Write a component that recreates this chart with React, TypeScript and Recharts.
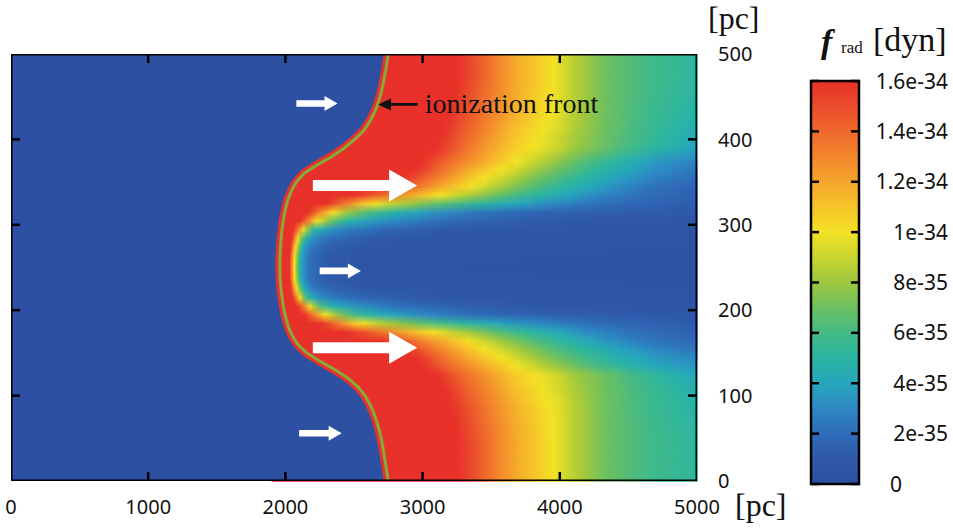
import React from 'react';
import { ScatterChart, Scatter, XAxis, YAxis, ReferenceArea, ReferenceLine } from 'recharts';

// all f_rad levels below are in units of 1e-35 dyn
const xTicks = [0, 1000, 2000, 3000, 4000, 5000];
const yTicks = [0, 100, 200, 300, 400, 500];
const colorbarTicks = [0, 2, 4, 6, 8, 10, 12, 14, 16];
const colorbarLabels = ['0', '2e-35', '4e-35', '6e-35', '8e-35', '1e-34', '1.2e-34', '1.4e-34', '1.6e-34'];

// jet-like map, colour for level 0..16
const levelColors = [
  '#2d50a2', '#2f58aa', '#2f6cb9', '#2d88c3', '#27a6bd', '#2ab5a3', '#44ba86', '#6bc062',
  '#9dc83e', '#c9d52f', '#f3e224', '#f6c42a', '#f5a52c', '#f3862d', '#ef692d', '#eb4b2c', '#e8312a',
];

// ionization front (green line), x in pc for y = 500 ... 0
const frontY = [500, 490, 480, 470, 460, 450, 440, 430, 420, 410, 400, 390, 380, 370, 360, 350, 340, 330, 320, 310, 300,
  290, 280, 270, 260, 250, 240, 230, 220, 210, 200, 190, 180, 170, 160, 150, 140, 130, 120, 110, 100,
  90, 80, 70, 60, 50, 40, 30, 20, 10, 0];
const frontX = [2750, 2740, 2730, 2718, 2705, 2690, 2670, 2645, 2612, 2570, 2505, 2430, 2340, 2230, 2135, 2080, 2045, 2020, 2003, 1990, 1980,
  1972, 1967, 1963, 1960, 1960, 1961, 1965, 1971, 1980, 1990, 2005, 2023, 2050, 2090, 2155, 2255, 2365, 2460, 2530, 2580,
  2615, 2643, 2665, 2683, 2698, 2710, 2720, 2730, 2740, 2750];

// horizontal f_rad profiles: row y (pc) and [x pc, level] points from the front to the right edge
const rowY = [490, 470, 450, 430, 410, 390, 375, 365, 355, 345, 335, 325, 315, 305, 295, 285, 275, 265, 255,
  245, 235, 225, 215, 205, 195, 185, 175, 165, 155, 145, 135, 125, 110, 90, 70, 50, 30, 10];
const rowProfiles: number[][][] = [
  [[2740, 16], [3250, 16], [3400, 14.6], [3550, 13], [3700, 11.7], [3850, 10.7], [3950, 10], [4080, 8.8], [4300, 7.2], [4500, 6.4], [4700, 5.8], [5000, 5.1]],
  [[2718, 16], [3250, 16], [3400, 14.6], [3550, 13], [3700, 11.7], [3850, 10.7], [3950, 10], [4080, 8.8], [4300, 7.2], [4500, 6.4], [4700, 5.8], [5000, 5.1]],
  [[2690, 16], [3230, 16], [3380, 14.5], [3540, 12.9], [3700, 11.6], [3860, 10.5], [3960, 9.9], [4090, 8.7], [4300, 7.2], [4500, 6.4], [4700, 5.7], [5000, 5]],
  [[2645, 16], [3200, 16], [3360, 14.4], [3530, 12.8], [3700, 11.4], [3870, 10.3], [3980, 9.7], [4100, 8.6], [4300, 7.2], [4500, 6.3], [4700, 5.6], [5000, 4.8]],
  [[2570, 16], [3150, 16], [3320, 14.2], [3500, 12.6], [3680, 11], [3850, 10.1], [3980, 9.3], [4120, 8.2], [4320, 7.1], [4520, 6.2], [4720, 5.4], [5000, 4.4]],
  [[2430, 16], [3100, 16], [3280, 14], [3480, 12.2], [3650, 10.8], [3800, 10], [3950, 9.2], [4100, 8], [4300, 7], [4500, 6], [4700, 5], [5000, 3.8]],
  [[2285, 16], [3000, 16], [3180, 14], [3380, 12.4], [3550, 11], [3680, 10], [3850, 8.7], [4050, 7.3], [4250, 6], [4450, 4.8], [4700, 3.6], [5000, 2.8]],
  [[2180, 16], [2950, 16], [3120, 14], [3320, 12], [3500, 10.5], [3630, 9.6], [3800, 8.2], [4000, 6.9], [4200, 5.7], [4420, 4.4], [4700, 3.2], [5000, 2.4]],
  [[2105, 16], [2850, 16], [3030, 14], [3230, 12], [3420, 10.2], [3560, 9.2], [3750, 7.7], [3950, 6.4], [4150, 5.2], [4400, 3.9], [4700, 2.7], [5000, 2]],
  [[2060, 16], [2720, 16], [2920, 14], [3120, 12], [3320, 10.3], [3500, 8.7], [3700, 7.2], [3880, 6], [4100, 4.7], [4350, 3.4], [4650, 2.3], [5000, 1.6]],
  [[2030, 16], [2500, 16], [2700, 14], [2900, 12], [3100, 10.2], [3300, 8.6], [3500, 7.2], [3700, 5.9], [3950, 4.5], [4200, 3.3], [4550, 2.2], [5000, 1.4]],
  [[2010, 16], [2300, 16], [2430, 13.5], [2560, 11], [2700, 9.5], [2900, 8], [3100, 6.8], [3350, 5.5], [3600, 4.3], [3900, 3.2], [4300, 2.1], [5000, 1.2]],
  [[1995, 16], [2170, 16], [2250, 13], [2330, 10.5], [2450, 8], [2600, 6.3], [2800, 4.8], [3050, 3.5], [3400, 2.4], [3900, 1.6], [4500, 1.2], [5000, 1]],
  [[1985, 16], [2110, 16], [2170, 13], [2230, 10], [2330, 7.2], [2450, 5], [2650, 3.6], [2900, 2.7], [3250, 1.8], [3800, 1.1], [5000, 0.8]],
  [[1975, 16], [2060, 16], [2110, 12], [2150, 8.5], [2200, 5.5], [2280, 3.8], [2420, 2.8], [2700, 1.8], [3200, 1], [5000, 0.6]],
  [[1969, 16], [2045, 16], [2085, 11], [2120, 7], [2160, 4.5], [2220, 3], [2350, 2], [2600, 1.2], [3000, 0.8], [5000, 0.5]],
  [[1965, 16], [2035, 16], [2070, 11], [2100, 7], [2130, 4], [2190, 2.4], [2300, 1.5], [2550, 0.9], [5000, 0.5]],
  [[1961, 16], [2030, 16], [2065, 10.5], [2095, 6.5], [2120, 4], [2175, 2.2], [2300, 1.2], [2550, 0.7], [5000, 0.4]],
  [[1960, 16], [2028, 16], [2062, 10.5], [2092, 6.5], [2115, 4], [2170, 2.2], [2300, 1.1], [2550, 0.6], [5000, 0.4]],
  [[1960, 16], [2028, 16], [2062, 10.5], [2092, 6.5], [2115, 4], [2170, 2.2], [2300, 1.1], [2550, 0.6], [5000, 0.4]],
  [[1963, 16], [2030, 16], [2065, 10.5], [2095, 6.5], [2120, 4], [2175, 2.2], [2300, 1.2], [2550, 0.7], [5000, 0.4]],
  [[1968, 16], [2038, 16], [2075, 11], [2108, 7], [2142, 4.2], [2200, 2.6], [2320, 1.7], [2570, 1], [5000, 0.5]],
  [[1975, 16], [2052, 16], [2095, 11.5], [2132, 7.5], [2175, 4.8], [2245, 3.3], [2380, 2.3], [2650, 1.5], [3100, 0.9], [5000, 0.55]],
  [[1985, 16], [2090, 16], [2145, 12.5], [2195, 9], [2265, 6], [2370, 4.3], [2550, 3.2], [2800, 2.2], [3250, 1.4], [3900, 0.9], [5000, 0.7]],
  [[1997, 16], [2140, 16], [2210, 13], [2280, 10.3], [2390, 7.6], [2530, 5.6], [2720, 4.2], [2980, 3.1], [3330, 2.1], [3850, 1.4], [4500, 1.1], [5000, 0.9]],
  [[2013, 16], [2260, 16], [2380, 13.3], [2500, 10.8], [2650, 9], [2850, 7.6], [3050, 6.4], [3300, 5.1], [3550, 4], [3850, 3], [4250, 2], [5000, 1.1]],
  [[2035, 16], [2450, 16], [2650, 14], [2850, 12], [3050, 10.2], [3250, 8.6], [3450, 7.2], [3650, 5.9], [3900, 4.5], [4150, 3.3], [4500, 2.2], [5000, 1.4]],
  [[2068, 16], [2700, 16], [2900, 14], [3100, 12], [3300, 10.3], [3480, 8.7], [3680, 7.2], [3860, 6], [4080, 4.7], [4330, 3.4], [4630, 2.4], [5000, 1.7]],
  [[2120, 16], [2850, 16], [3030, 14], [3230, 12], [3420, 10.2], [3560, 9.2], [3750, 7.7], [3950, 6.4], [4150, 5.2], [4400, 4], [4700, 2.9], [5000, 2.2]],
  [[2200, 16], [2950, 16], [3120, 14], [3320, 12], [3500, 10.5], [3630, 9.6], [3800, 8.2], [4000, 6.9], [4200, 5.8], [4420, 4.6], [4700, 3.6], [5000, 2.9]],
  [[2310, 16], [3000, 16], [3180, 14], [3380, 12.4], [3550, 11], [3680, 10], [3850, 8.7], [4050, 7.4], [4250, 6.2], [4450, 5.1], [4700, 4], [5000, 3.4]],
  [[2415, 16], [3100, 16], [3280, 14], [3480, 12.3], [3650, 10.9], [3800, 10.1], [3950, 9.3], [4100, 8.1], [4300, 7.1], [4500, 6.1], [4700, 5.2], [5000, 4]],
  [[2530, 16], [3150, 16], [3320, 14.2], [3500, 12.6], [3680, 11], [3850, 10.1], [3980, 9.3], [4120, 8.2], [4320, 7.1], [4520, 6.2], [4720, 5.4], [5000, 4.5]],
  [[2615, 16], [3200, 16], [3360, 14.4], [3530, 12.8], [3700, 11.4], [3870, 10.3], [3980, 9.7], [4100, 8.6], [4300, 7.2], [4500, 6.3], [4700, 5.6], [5000, 4.9]],
  [[2665, 16], [3230, 16], [3380, 14.5], [3540, 12.9], [3700, 11.6], [3860, 10.5], [3960, 9.9], [4090, 8.7], [4300, 7.2], [4500, 6.4], [4700, 5.7], [5000, 5]],
  [[2698, 16], [3250, 16], [3400, 14.6], [3550, 13], [3700, 11.7], [3850, 10.7], [3950, 10], [4080, 8.8], [4300, 7.2], [4500, 6.4], [4700, 5.8], [5000, 5.1]],
  [[2720, 16], [3250, 16], [3400, 14.6], [3550, 13], [3700, 11.7], [3850, 10.7], [3950, 10], [4080, 8.8], [4300, 7.2], [4500, 6.4], [4700, 5.8], [5000, 5.2]],
  [[2740, 16], [3250, 16], [3400, 14.6], [3550, 13], [3700, 11.7], [3850, 10.7], [3950, 10], [4080, 8.8], [4300, 7.2], [4500, 6.4], [4700, 5.8], [5000, 5.2]],
];
// the field is painted from here rightwards, the blue region left of the front goes on top
const FIELD_X0 = 1900;

// white flow arrows (pc)
const arrowTailX = [2080, 2200, 2250, 2200, 2100];
const arrowTipX = [2380, 2960, 2550, 2960, 2410];
const arrowY = [442, 346, 246, 156, 56];
const arrowBig = [false, true, false, true, false];

// "ionization front" pointer
const labelArrowX = [2965, 2675];
const labelArrowY = 441;

const hexToRgb = (h: string) => [1, 3, 5].map((i) => parseInt(h.slice(i, i + 2), 16));
const levelColor = (lev: number) => {
  const l = Math.max(0, Math.min(16, lev));
  const i = Math.min(15, Math.floor(l));
  const t = l - i;
  const a = hexToRgb(levelColors[i]);
  const b = hexToRgb(levelColors[i + 1]);
  const c = a.map((v, k) => Math.round(v + (b[k] - v) * t));
  return `rgb(${c[0]},${c[1]},${c[2]})`;
};

// gradient stops of one profile over [FIELD_X0, 5000]; a stop is added where an integer level is crossed
const profileStops = (p: number[][]) => {
  const pts = [[FIELD_X0, p[0][1]], ...p];
  const span = 5000 - FIELD_X0;
  const stops: { offset: number; color: string }[] = [];
  pts.forEach(([x, lev], j) => {
    stops.push({ offset: (x - FIELD_X0) / span, color: levelColor(lev) });
    if (j < pts.length - 1) {
      const [xn, ln] = pts[j + 1];
      const lo = Math.min(lev, ln);
      const hi = Math.max(lev, ln);
      const ks: number[] = [];
      for (let k = Math.floor(lo) + 1; k < hi; k++) ks.push(k);
      if (ln < lev) ks.reverse();
      ks.forEach((k) => {
        const xs = x + ((k - lev) / (ln - lev)) * (xn - x);
        stops.push({ offset: (xs - FIELD_X0) / span, color: levelColor(k) });
      });
    }
  });
  return stops;
};

const hGradient = (id: string, p: number[][]) => (
  <linearGradient id={id} x1="0" x2="1" y1="0" y2="0">
    {profileStops(p).map((st, k) => <stop key={k} offset={st.offset} stopColor={st.color} />)}
  </linearGradient>
);

// band between two rows: upper profile faded into the lower one
const bandShape = (id: string, pTop: number[][], pBottom: number[][]) => (s: any) => (
  <g>
    <defs>
      {hGradient(`${id}-a`, pTop)}
      {hGradient(`${id}-b`, pBottom)}
      <linearGradient id={`${id}-v`} x1="0" x2="0" y1="0" y2="1">
        <stop offset={0} stopColor="#fff" stopOpacity={0} />
        <stop offset={1} stopColor="#fff" stopOpacity={1} />
      </linearGradient>
      <mask id={`${id}-m`} maskContentUnits="objectBoundingBox">
        <rect x={0} y={0} width={1} height={1} fill={`url(#${id}-v)`} />
      </mask>
    </defs>
    <rect x={s.x} y={s.y} width={s.width + 0.8} height={s.height + 0.8} fill={`url(#${id}-a)`} />
    <rect x={s.x} y={s.y} width={s.width + 0.8} height={s.height + 0.8} fill={`url(#${id}-b)`} mask={`url(#${id}-m)`} />
  </g>
);

const flatShape = (id: string, p: number[][]) => (s: any) => (
  <g>
    <defs>{hGradient(id, p)}</defs>
    <rect x={s.x} y={s.y} width={s.width + 0.8} height={s.height + 0.8} fill={`url(#${id})`} />
  </g>
);

const frontData = frontY.map((y, i) => ({ x: frontX[i], y }));
const neutralData = [{ x: 0, y: 500 }, ...frontData, { x: 0, y: 0 }];
const frameData = [{ x: 0, y: 0 }, { x: 0, y: 500 }, { x: 5000, y: 500 }, { x: 5000, y: 0 }, { x: 0, y: 0 }];

const tickFont = { fontFamily: '"Noto Sans", sans-serif', fontSize: 20, fill: '#111' };
const serif = '"Liberation Serif", "DejaVu Serif", serif';
const noDot = () => <g />;

const bottomTick = (p: any) => {
  const v = p.payload.value;
  return (
    <g>
      {v > 0 && v < 5000 && <line x1={p.x} x2={p.x} y1={p.y} y2={p.y - 9} stroke="#000" strokeWidth={2.5} />}
      <text x={p.x} y={p.y + 33} textAnchor="middle" style={tickFont}>{v}</text>
    </g>
  );
};
const topTick = (p: any) => <line x1={p.x} x2={p.x} y1={p.y} y2={p.y + 9} stroke="#000" strokeWidth={2.5} />;
const leftTick = (p: any) => <line x1={p.x} x2={p.x + 9} y1={p.y} y2={p.y} stroke="#000" strokeWidth={2.5} />;
const rightTick = (p: any) => {
  const v = p.payload.value;
  return (
    <g>
      {v > 0 && v < 500 && <line x1={p.x - 9} x2={p.x} y1={p.y} y2={p.y} stroke="#000" strokeWidth={2.5} />}
      <text x={p.x + 21} y={p.y} dy="0.36em" textAnchor="start" style={tickFont}>{v}</text>
    </g>
  );
};

const colorbarTick = (p: any) => {
  const v = p.payload.value;
  const label = colorbarLabels[colorbarTicks.indexOf(v)];
  const isZero = v === 0;
  return (
    <g>
      <line x1={p.x - 48} x2={p.x - 40} y1={p.y} y2={p.y} stroke="#000" strokeWidth={2.5} />
      <line x1={p.x - 8} x2={p.x} y1={p.y} y2={p.y} stroke="#000" strokeWidth={2.5} />
      <text x={isZero ? p.x + 31 : p.x + 89} y={p.y} dy="0.36em" textAnchor={isZero ? 'start' : 'end'}
        style={{ ...tickFont, fontSize: 21 }}>{label}</text>
    </g>
  );
};

const arrowShape = (shaft: number, head: number, headLen: number, color: string, label?: string) => (p: any) => {
  const { x1, y1, x2 } = p;
  const dir = x2 > x1 ? 1 : -1;
  const hx = x2 - dir * headLen;
  const pts = [[x1, y1 - shaft], [hx, y1 - shaft], [hx, y1 - head], [x2, y1], [hx, y1 + head], [hx, y1 + shaft], [x1, y1 + shaft]];
  return (
    <g>
      <polygon points={pts.map((q) => q.join(',')).join(' ')} fill={color} />
      {label && (
        <text x={x1 + 7} y={y1 + 9} style={{ fontFamily: serif, fontSize: 28, fill: '#111' }}>{label}</text>
      )}
    </g>
  );
};

const colorbarShape = (s: any) => (
  <g>
    <defs>
      <linearGradient id="cbar" x1="0" x2="0" y1="1" y2="0">
        {levelColors.map((c, k) => <stop key={k} offset={k / 16} stopColor={c} />)}
      </linearGradient>
    </defs>
    <rect x={s.x} y={s.y} width={s.width} height={s.height} fill="url(#cbar)" stroke="#000" strokeWidth={2.5} />
  </g>
);

const chartSize = { width: 953, height: 529, margin: { top: 53, right: 196, bottom: 8, left: 10 } };

// same four axes for the field layer and the overlay layer; ticks only drawn on the overlay
const axes = (withTicks: boolean) => [
  <XAxis key="xb" type="number" dataKey="x" domain={[0, 5000]} ticks={xTicks} interval={0} height={40}
    tickSize={0} tickMargin={0} tick={withTicks ? bottomTick : false} tickLine={false} axisLine={false} allowDataOverflow />,
  <XAxis key="xt" xAxisId="top" orientation="top" type="number" dataKey="x" domain={[0, 5000]} ticks={[1000, 2000, 3000, 4000]}
    interval={0} height={1} tickSize={0} tickMargin={0} tick={withTicks ? topTick : false} tickLine={false} axisLine={false} allowDataOverflow />,
  <YAxis key="yr" type="number" dataKey="y" orientation="right" domain={[0, 500]} ticks={yTicks} interval={0} width={60}
    tickSize={0} tickMargin={0} tick={withTicks ? rightTick : false} tickLine={false} axisLine={false} allowDataOverflow />,
  <YAxis key="yl" yAxisId="left" orientation="left" type="number" dataKey="y" domain={[0, 500]} ticks={[100, 200, 300, 400]}
    interval={0} width={1} tickSize={0} tickMargin={0} tick={withTicks ? leftTick : false} tickLine={false} axisLine={false} allowDataOverflow />,
];

const App: React.FC = () => {
  const last = rowY.length - 1;
  return (
    <div style={{ position: 'fixed', left: 0, top: 0, width: 953, height: 529, background: '#fff' }}>
      {/* f_rad field, neutral region and the front */}
      <div style={{ position: 'absolute', left: 0, top: 0 }}>
        <ScatterChart {...chartSize}>
          <ReferenceArea x1={0} x2={5000} y1={0} y2={500} fill={levelColors[0]} fillOpacity={1} stroke="none" />
          <ReferenceArea x1={FIELD_X0} x2={5000} y1={rowY[0]} y2={500} shape={flatShape('band-top', rowProfiles[0])} />
          {rowY.slice(0, -1).map((y, i) => (
            <ReferenceArea key={`band-${i}`} x1={FIELD_X0} x2={5000} y1={rowY[i + 1]} y2={y}
              shape={bandShape(`band-${i}`, rowProfiles[i], rowProfiles[i + 1])} />
          ))}
          <ReferenceArea x1={FIELD_X0} x2={5000} y1={0} y2={rowY[last]} shape={flatShape('band-bottom', rowProfiles[last])} />
          <Scatter data={neutralData} line={{ stroke: 'none', fill: levelColors[0] }} shape={noDot} isAnimationActive={false} />
          <Scatter data={frontData} line={{ stroke: '#e8312a', strokeWidth: 9 }} shape={noDot} isAnimationActive={false} />
          <Scatter data={frontData} line={{ stroke: '#86ab3a', strokeWidth: 3 }} shape={noDot} isAnimationActive={false} />
          <Scatter xAxisId="top" yAxisId="left" data={frameData} shape={noDot} isAnimationActive={false} />
          {axes(false)}
        </ScatterChart>
      </div>
      {/* arrows, frame and ticks */}
      <div style={{ position: 'absolute', left: 0, top: 0 }}>
        <ScatterChart {...chartSize}>
          {arrowY.map((y, i) => (
            <ReferenceLine key={`arrow-${i}`} segment={[{ x: arrowTailX[i], y }, { x: arrowTipX[i], y }]}
              shape={arrowBig[i] ? arrowShape(5.5, 16, 28, '#fff') : arrowShape(3.3, 7.5, 13, '#fff')} />
          ))}
          <ReferenceLine segment={[{ x: labelArrowX[0], y: labelArrowY }, { x: labelArrowX[1], y: labelArrowY }]}
            shape={arrowShape(1.4, 6, 13, '#111', 'ionization front')} />
          <Scatter data={frameData} line={{ stroke: '#000', strokeWidth: 3, strokeLinejoin: 'miter' }}
            shape={noDot} isAnimationActive={false} />
          <Scatter xAxisId="top" yAxisId="left" data={frameData} shape={noDot} isAnimationActive={false} />
          {axes(true)}
        </ScatterChart>
      </div>
      <div style={{ position: 'absolute', left: 800, top: 60 }}>
        <ScatterChart width={153} height={440} margin={{ top: 21, right: 0, bottom: 16, left: 11 }}>
          <ReferenceArea x1={0} x2={1} y1={0} y2={16} shape={colorbarShape} />
          <Scatter data={[{ x: 0, y: 0 }, { x: 1, y: 16 }]} shape={noDot} isAnimationActive={false} />
          <XAxis type="number" dataKey="x" domain={[0, 1]} hide />
          <YAxis type="number" dataKey="y" orientation="right" domain={[0, 16]} ticks={colorbarTicks} interval={0}
            width={94} tickSize={0} tickMargin={0} axisLine={false} tickLine={false} tick={colorbarTick} />
        </ScatterChart>
      </div>
      <svg width={953} height={529} style={{ position: 'absolute', left: 0, top: 0, pointerEvents: 'none' }}>
        <text x={708} y={29} style={{ fontFamily: serif, fontSize: 32, fill: '#111' }}>[pc]</text>
        <text x={735} y={516} style={{ fontFamily: serif, fontSize: 32, fill: '#111' }}>[pc]</text>
        <text x={821} y={53} style={{ fontFamily: serif, fontSize: 34, fontStyle: 'italic', fontWeight: 'bold', fill: '#111' }}>f</text>
        <text x={841} y={53} style={{ fontFamily: serif, fontSize: 17, fill: '#111' }}>rad</text>
        <text x={873} y={51} style={{ fontFamily: serif, fontSize: 34, fill: '#111' }}>[dyn]</text>
      </svg>
    </div>
  );
};

export default App;
